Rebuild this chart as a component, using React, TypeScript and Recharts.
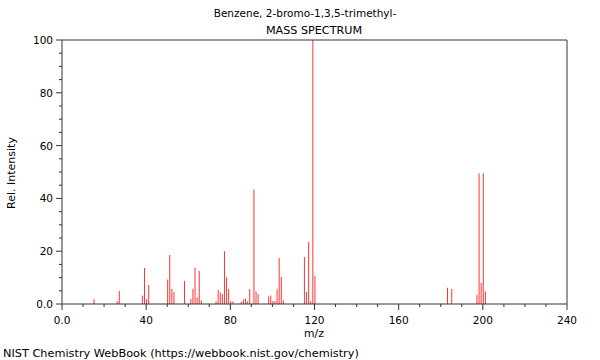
import { BarChart, Bar, XAxis, YAxis, ReferenceLine } from 'recharts';

// m/z values and their relative intensities
const mzValues = [
  15, 26, 27, 38, 39, 40, 41, 50, 51, 52, 53, 58, 61, 62, 63, 64, 65, 66,
  73, 74, 75, 76, 77, 78, 79, 80, 81, 85, 86, 87, 88, 89, 91, 92, 93,
  98, 99, 100, 101, 102, 103, 104, 105, 115, 116, 117, 118, 119, 120,
  183, 185, 197, 198, 199, 200, 201,
];
const intensities = [
  1.8, 1.1, 4.9, 3.2, 13.6, 1.9, 7.2, 9.3, 18.6, 5.7, 4.5, 8.7, 1.9, 5.8, 13.8, 2.6, 12.5, 1.3,
  1.0, 5.3, 4.4, 3.8, 20.0, 10.1, 5.7, 1.0, 1.0, 0.8, 1.6, 2.0, 1.0, 5.7, 43.4, 4.7, 3.8,
  2.8, 3.2, 1.1, 1.0, 5.6, 17.4, 10.2, 1.3, 17.8, 4.5, 23.5, 1.0, 100, 10.6,
  6.2, 5.7, 3.5, 49.5, 8.0, 49.5, 4.7,
];
const xTicks = [0, 10, 20, 30, 40, 50, 60, 70, 80, 90, 100, 110, 120, 130, 140, 150, 160, 170, 180, 190, 200, 210, 220, 230, 240];
const yTicks = [0, 5, 10, 15, 20, 25, 30, 35, 40, 45, 50, 55, 60, 65, 70, 75, 80, 85, 90, 95, 100];

const title = 'Benzene, 2-bromo-1,3,5-trimethyl-';
const subtitle = 'MASS SPECTRUM';
const footer = 'NIST Chemistry WebBook (https://webbook.nist.gov/chemistry)';

const data = mzValues.map((m, i) => ({ mz: m, intensity: intensities[i] }));

const font = '"DejaVu Sans", sans-serif';
const axisColor = '#333';

function XTick({ x, y, payload }: any) {
  const v = payload.value;
  const major = v % 40 === 0;
  return (
    <g>
      <line x1={x} x2={x} y1={y} y2={y + (major ? 6 : 3)} stroke={axisColor} />
      {major && (
        <text x={x} y={y + 20} textAnchor="middle" fontSize={10.5} fontFamily={font} fill="#000">
          {v === 0 ? '0.0' : v}
        </text>
      )}
    </g>
  );
}

function YTick({ x, y, payload }: any) {
  const v = payload.value;
  const major = v % 20 === 0;
  return (
    <g>
      <line x1={x - (major ? 6 : 3)} x2={x} y1={y} y2={y} stroke={axisColor} />
      {major && (
        <text x={x - 9} y={y + 4} textAnchor="end" fontSize={10.5} fontFamily={font} fill="#000">
          {v === 0 ? '0.0' : v}
        </text>
      )}
    </g>
  );
}

export default function App() {
  return (
    <div style={{ position: 'absolute', left: 0, top: 0, width: 600, height: 360, background: '#fff' }}>
      <BarChart width={600} height={360} data={data} margin={{ top: 40, right: 33, bottom: 0, left: 0 }}>
        <XAxis
          dataKey="mz"
          type="number"
          domain={[0, 240]}
          ticks={xTicks}
          interval={0}
          height={56}
          tickSize={0}
          tickMargin={0}
          tickLine={false}
          stroke={axisColor}
          tick={<XTick />}
        />
        <YAxis
          type="number"
          domain={[0, 100]}
          ticks={yTicks}
          interval={0}
          width={62}
          tickSize={0}
          tickMargin={0}
          tickLine={false}
          stroke={axisColor}
          tick={<YTick />}
        />
        <ReferenceLine y={100} stroke={axisColor} />
        <ReferenceLine x={240} stroke={axisColor} />
        <Bar dataKey="intensity" fill="#ff3333" barSize={1} isAnimationActive={false} />
      </BarChart>
      <svg width={600} height={360} style={{ position: 'absolute', left: 0, top: 0, pointerEvents: 'none' }}>
        <g fontFamily={font} fill="#000">
          <text x={305} y={17} textAnchor="middle" fontSize={10.5}>{title}</text>
          <text x={314} y={34} textAnchor="middle" fontSize={11.2}>{subtitle}</text>
          <text x={314} y={337} textAnchor="middle" fontSize={10.8}>m/z</text>
          <text transform="translate(15,173) rotate(-90)" textAnchor="middle" fontSize={11}>Rel. Intensity</text>
          <text x={3} y={357} fontSize={11.3}>{footer}</text>
        </g>
      </svg>
    </div>
  );
}
